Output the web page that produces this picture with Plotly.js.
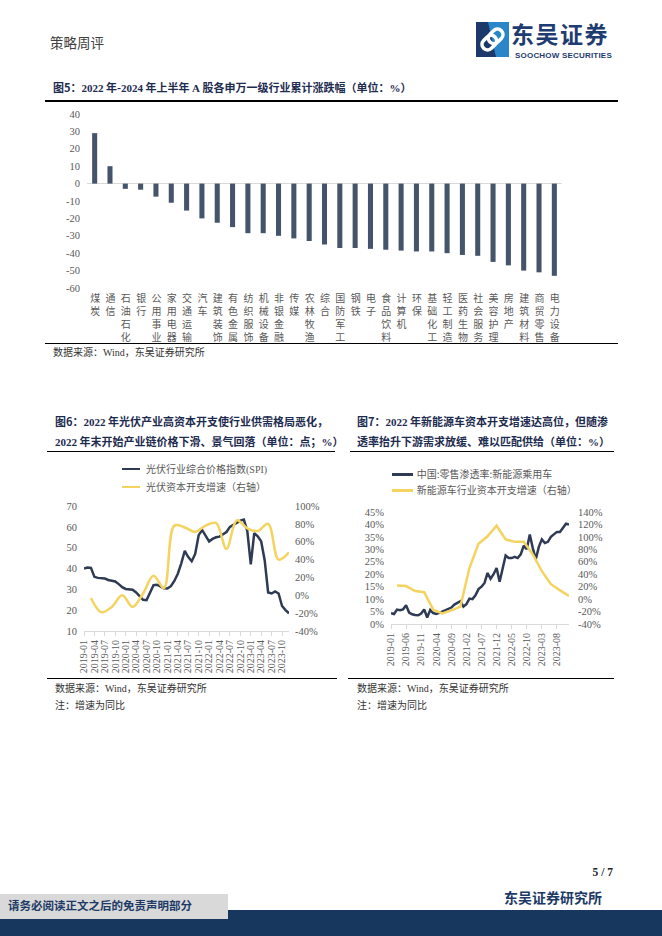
<!DOCTYPE html>
<html><head><meta charset="utf-8">
<script src="https://cdn.plot.ly/plotly-3.0.1.min.js"></script>
<style>
html,body{margin:0;padding:0;background:#fff;}
#page{position:relative;width:662px;height:936px;overflow:hidden;background:#fff;font-family:'Noto Sans CJK SC',sans-serif;}
.t{position:absolute;white-space:nowrap;line-height:1;z-index:5;}
.ttl{font-size:11px;font-weight:bold;color:#1d2b4f;}
.src{font-size:10px;color:#333;}
.lat{font-family:'Liberation Serif',serif;}
.rule{position:absolute;background:#000;z-index:5;}
.leg{font-size:10px;color:#595959;}
.sw{position:absolute;height:2.5px;z-index:5;}
.chart{position:absolute;z-index:1;}
.vlab{position:absolute;z-index:5;writing-mode:vertical-rl;text-orientation:upright;font-size:10px;line-height:10px;letter-spacing:3px;color:#595959;white-space:nowrap;}
</style></head>
<body><div id="page">
<!-- header -->
<div class="t" style="left:50px;top:36px;font-size:13.5px;color:#404040;">策略周评</div>
<svg style="position:absolute;left:476px;top:22px;z-index:5" width="33" height="35" viewBox="0 0 33 35">
<rect width="33" height="35" fill="#1b3a6b"/>
<polygon points="12,0 33,0 33,35 20,35" fill="#2a86c8"/>
<g transform="rotate(-45 16.5 17.5)" fill="none" stroke="#fff" stroke-width="3.6">
<rect x="4" y="12" width="16" height="11" rx="5.5"/>
<rect x="13" y="12" width="16" height="11" rx="5.5"/>
</g>
</svg>
<div class="t" style="left:511px;top:22px;font-size:23px;line-height:23px;height:23px;font-weight:bold;color:#1e3c72;letter-spacing:1.5px;">东吴证券</div>
<div class="t" style="left:515px;top:52px;font-size:8px;line-height:8px;font-weight:bold;color:#1e3c72;font-family:'Liberation Sans',sans-serif;letter-spacing:0.2px;">SOOCHOW SECURITIES</div>

<!-- figure 5 -->
<div class="t ttl" style="left:53px;top:82px;">图5：<span class="lat">2022</span> 年-<span class="lat">2024</span> 年上半年 <span class="lat">A</span> 股各申万一级行业累计涨跌幅（单位：<span class="lat">%</span>）</div>
<div class="rule" style="left:45px;top:100px;width:573px;height:1.5px;"></div>
<div id="c5" class="chart" style="left:0;top:100px;width:662px;height:255px;"></div>
<div id="c5labels"></div>
<div class="rule" style="left:45px;top:343px;width:573px;height:1.2px;"></div>
<div class="t src" style="left:53px;top:346.5px;">数据来源：<span class="lat">Wind</span>，东吴证券研究所</div>

<!-- figure 6 -->
<div class="t ttl" style="left:55px;top:415.5px;">图6：<span class="lat">2022</span> 年光伏产业高资本开支使行业供需格局恶化，</div>
<div class="t ttl" style="left:55px;top:435.5px;"><span class="lat">2022</span> 年末开始产业链价格下滑、景气回落（单位：点；<span class="lat">%</span>）</div>
<div class="rule" style="left:46.7px;top:451px;width:288.5px;height:1.2px;"></div>
<div id="c6" class="chart" style="left:0;top:455px;width:345px;height:240px;"></div>
<div class="sw" style="left:122px;top:467.7px;width:18px;background:#2f3b55;"></div>
<div class="t leg" style="left:146px;top:463.5px;">光伏行业综合价格指数<span class="lat">(SPI)</span></div>
<div class="sw" style="left:122px;top:485.5px;width:18px;background:#f4d35e;"></div>
<div class="t leg" style="left:146px;top:481.5px;">光伏资本开支增速（右轴）</div>
<div class="rule" style="left:46.7px;top:677.5px;width:290px;height:1.2px;"></div>
<div class="t src" style="left:55px;top:683px;">数据来源：<span class="lat">Wind</span>，东吴证券研究所</div>
<div class="t src" style="left:55px;top:699.5px;">注：增速为同比</div>

<!-- figure 7 -->
<div class="t ttl" style="left:357px;top:415.5px;">图7：<span class="lat">2022</span> 年新能源车资本开支增速达高位，但随渗</div>
<div class="t ttl" style="left:357px;top:435.5px;">透率抬升下游需求放缓、难以匹配供给（单位：<span class="lat">%</span>）</div>
<div class="rule" style="left:350px;top:451px;width:264px;height:1.2px;"></div>
<div id="c7" class="chart" style="left:345px;top:455px;width:317px;height:240px;"></div>
<div class="sw" style="left:392px;top:473px;width:21px;background:#2f3b55;"></div>
<div class="t leg" style="left:416.7px;top:468.5px;">中国:零售渗透率:新能源乘用车</div>
<div class="sw" style="left:392px;top:489px;width:21px;background:#f4d35e;"></div>
<div class="t leg" style="left:416.7px;top:484.5px;">新能源车行业资本开支增速（右轴）</div>
<div class="rule" style="left:348px;top:677.5px;width:266px;height:1.2px;"></div>
<div class="t src" style="left:357px;top:683px;">数据来源：<span class="lat">Wind</span>，东吴证券研究所</div>
<div class="t src" style="left:357px;top:699.5px;">注：增速为同比</div>

<!-- footer -->
<div class="t lat" style="right:49px;top:867px;font-size:11.5px;font-weight:bold;color:#222;">5 / 7</div>
<div class="t" style="left:504px;top:890px;font-size:14px;font-weight:bold;color:#1d3a66;">东吴证券研究所</div>
<div style="position:absolute;left:0;top:910px;width:662px;height:26px;background:#17375e;z-index:2;"></div>
<div style="position:absolute;left:0;top:894px;width:228px;height:25px;background:#d9d9d9;z-index:3;"></div>
<div class="t" style="left:8px;top:900px;font-size:11.5px;font-weight:bold;color:#1d3a66;">请务必阅读正文之后的免责声明部分</div>
</div>

<script>
// ---------- data ----------
const industries = ['煤炭','通信','石油石化','银行','公用事业','家用电器','交通运输','汽车','建筑装饰','有色金属','纺织服饰','机械设备','非银金融','传媒','农林牧渔','综合','国防军工','钢铁','电子','食品饮料','计算机','环保','基础化工','轻工制造','医药生物','社会服务','美容护理','房地产','建筑材料','商贸零售','电力设备'];
const industryChange = [29,10,-3,-3.5,-7.5,-11,-15.5,-20,-22.5,-25,-28.5,-28.5,-30,-31.5,-33,-35,-37,-37,-37.5,-38,-38.5,-39,-39,-40,-41,-41.5,-45,-47,-50,-51,-53];

const months = [];
for (let y = 2019; y <= 2023; y++) for (let m = 1; m <= 12; m++) months.push(y + '-' + (m < 10 ? '0' + m : m));

const spiIndex = [40,40.5,40.3,36,35.5,35.5,35.2,34.5,34.3,33.8,32.5,31,30.2,29.9,29.8,28.5,26.5,25,24.8,28.5,32,32.2,31.5,30.5,30.4,31.5,34,37.5,42.5,48.5,45.5,43.5,47,56,58.5,56,53,54.2,55,55.3,56.5,57.5,60,61,62,63,63.5,58,42,57,55.5,53,44,28.5,28,29,28,22,20,18.5];
const quarterMonths = ['2019-03','2019-06','2019-09','2019-12','2020-03','2020-06','2020-09','2020-12','2021-03','2021-06','2021-09','2021-12','2022-03','2022-06','2022-09','2022-12','2023-03','2023-06','2023-09','2023-12'];
const pvCapexGrowth = [-3,-19,-13,0,-13,2,22,8,78,76,71,78,81,52,84,75,72,80,40,48];

const nevPenetration = [4.3,4.0,5.8,5.5,5.9,7.5,4.6,3.9,3.6,3.5,4.2,5.8,2.6,5.6,4.4,4.0,4.5,5.0,5.4,5.8,6.6,7.8,8.6,9.2,7.0,8.0,10.2,10.0,11.5,14.0,15.0,16.5,20.5,18.2,20.0,22.5,17.0,22.0,27.5,26.5,26.5,27.0,26.5,28.0,31.5,30.0,36.0,30.5,26.0,31.0,34.0,32.5,33.0,35.0,36.0,37.0,37.0,38.5,40.3,40.0];
const nevCapexGrowth = [22,21,13,11,-17,-23,-18,-12,50,89,101,118,96,92,92,72,45,24,14,5];

const ticks5 = [40,30,20,10,0,-10,-20,-30,-40,-50,-60];
const ticks6L = [10,20,30,40,50,60,70];
const ticks6R = [-40,-20,0,20,40,60,80,100];
const ticks7L = [0,5,10,15,20,25,30,35,40,45];
const ticks7R = [-40,-20,0,20,40,60,80,100,120,140];

// ---------- styles ----------
const NUM = "'Liberation Serif', 'Noto Sans CJK SC', serif";
const GRAY = '#595959';
const DARK = '#2f3b55';
const GOLD = '#f4d35e';
const BAR = '#44546a';
const cfg = {staticPlot: true, displayModeBar: false};
const base = {paper_bgcolor: 'rgba(0,0,0,0)', plot_bgcolor: 'rgba(0,0,0,0)', showlegend: false};

// ---------- figure 5 ----------
Plotly.newPlot('c5', [{
  type: 'bar', x: industries, y: industryChange, marker: {color: BAR}, hoverinfo: 'skip'
}], Object.assign({}, base, {
  width: 662, height: 255,
  margin: {l: 86.7, r: 100.3, t: 14, b: 66.7},
  bargap: 0.67,
  xaxis: {type: 'category', range: [-0.5, 30.5], showticklabels: false, showline: false, showgrid: false,
    ticks: '', zeroline: false, automargin: false},
  yaxis: {range: [-60, 40], tickvals: ticks5, ticktext: ticks5.map(String),
    tickfont: {family: NUM, size: 10.5, color: GRAY}, showgrid: false, showline: false,
    zeroline: true, zerolinecolor: '#d9d9d9', zerolinewidth: 1, ticks: '',
    ticklabelstandoff: 6, automargin: false}
}), cfg).then(gd => {
  // vertical (top-to-bottom) category labels placed with the axis' own scale
  const xa = gd._fullLayout.xaxis, ya = gd._fullLayout.yaxis;
  const host = document.getElementById('c5labels');
  const chartTop = 100;
  industries.forEach((name, i) => {
    const d = document.createElement('div');
    d.className = 'vlab';
    d.textContent = name;
    d.style.left = (xa._offset + xa.l2p(i) - 5) + 'px';
    d.style.top = (chartTop + ya._offset + ya._length + 5) + 'px';
    host.appendChild(d);
  });
});

// ---------- figure 6 ----------
Plotly.newPlot('c6', [
  {type: 'scatter', mode: 'lines', x: months, y: spiIndex, line: {color: DARK, width: 2.5}, hoverinfo: 'skip'},
  {type: 'scatter', mode: 'lines', x: quarterMonths, y: pvCapexGrowth, yaxis: 'y2',
   line: {color: GOLD, width: 2.5, shape: 'spline', smoothing: 1}, hoverinfo: 'skip'}
], Object.assign({}, base, {
  width: 345, height: 240,
  margin: {l: 84.3, r: 55.7, t: 51, b: 64.3},
  xaxis: {type: 'category', categoryorder: 'array', categoryarray: months, range: [0, 59],
    tickvals: months.filter((_, i) => i % 3 === 0), tickangle: -90,
    tickfont: {family: NUM, size: 10, color: GRAY}, showline: true, linecolor: '#d9d9d9',
    ticks: 'outside', ticklen: 4, tickcolor: '#d9d9d9', showgrid: false, zeroline: false, automargin: false},
  yaxis: {range: [10, 70], tickvals: ticks6L, ticktext: ticks6L.map(String),
    tickfont: {family: NUM, size: 10.5, color: GRAY}, showgrid: false, showline: false,
    zeroline: false, ticks: '', ticklabelstandoff: 6, automargin: false},
  yaxis2: {overlaying: 'y', side: 'right', range: [-40, 100], tickvals: ticks6R,
    ticktext: ticks6R.map(v => v + '%'), tickfont: {family: NUM, size: 10.5, color: GRAY},
    showgrid: false, showline: false, zeroline: false, ticks: '', ticklabelstandoff: 5, automargin: false}
}), cfg);

// ---------- figure 7 ----------
Plotly.newPlot('c7', [
  {type: 'scatter', mode: 'lines', x: months, y: nevPenetration, line: {color: DARK, width: 2.5}, hoverinfo: 'skip'},
  {type: 'scatter', mode: 'lines', x: quarterMonths, y: nevCapexGrowth, yaxis: 'y2',
   line: {color: GOLD, width: 2.5}, hoverinfo: 'skip'}
], Object.assign({}, base, {
  width: 317, height: 240,
  margin: {l: 45.7, r: 93.2, t: 56.7, b: 71},
  xaxis: {type: 'category', categoryorder: 'array', categoryarray: months, range: [0, 59],
    tickvals: months.filter((_, i) => i % 5 === 0), tickangle: -90,
    tickfont: {family: NUM, size: 10, color: GRAY}, showline: true, linecolor: '#d9d9d9',
    ticks: 'outside', ticklen: 4, tickcolor: '#d9d9d9', showgrid: false, zeroline: false, automargin: false},
  yaxis: {range: [0, 45], tickvals: ticks7L, ticktext: ticks7L.map(v => v + '%'),
    tickfont: {family: NUM, size: 10.5, color: GRAY}, showgrid: false, showline: false,
    zeroline: false, ticks: '', ticklabelstandoff: 6, automargin: false},
  yaxis2: {overlaying: 'y', side: 'right', range: [-40, 140], tickvals: ticks7R,
    ticktext: ticks7R.map(v => v + '%'), tickfont: {family: NUM, size: 10.5, color: GRAY},
    showgrid: false, showline: false, zeroline: false, ticks: '', ticklabelstandoff: 8, automargin: false}
}), cfg);
</script>
</body></html>
